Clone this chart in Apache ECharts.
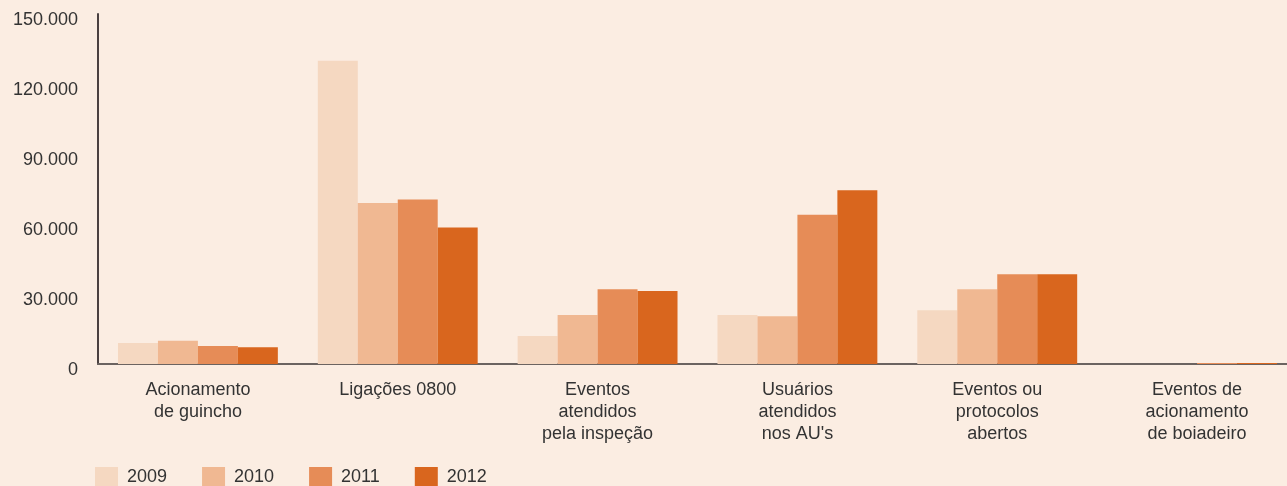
<!DOCTYPE html>
<html>
<head>
<meta charset="utf-8">
<script src="https://cdn.jsdelivr.net/npm/echarts@6/dist/echarts.min.js"></script>
<style>
  html, body { margin: 0; padding: 0; background: #fbede2; }
  #chart { width: 1287px; height: 486px; }
</style>
</head>
<body>
<div id="chart"></div>
<script>
// categorias e valores
var categories = [
  'Acionamento\nde guincho',
  'Ligações 0800',
  'Eventos\natendidos\npela inspeção',
  'Usuários\natendidos\nnos AU\'s',
  'Eventos ou\nprotocolos\nabertos',
  'Eventos de\nacionamento\nde boiadeiro'
]
var years = ['2009', '2010', '2011', '2012']
var values2009 = [9000, 130000, 12000, 21000, 23000, 0]
var values2010 = [10000, 69000, 21000, 20500, 32000, 0]
var values2011 = [7700, 70500, 32000, 64000, 38500, 400]
var values2012 = [7200, 58500, 31300, 74500, 38500, 400]
var yTicks = [0, 30000, 60000, 90000, 120000, 150000]

var colors = ['#f5d8c1', '#f0b892', '#e68c57', '#d9661e']
var seriesData = [values2009, values2010, values2011, values2012]

function fmt(v) {
  return String(v).replace(/\B(?=(\d{3})+(?!\d))/g, '.')
}

var myChart = echarts.init(document.getElementById('chart'))
var option = {
  backgroundColor: '#fbede2',
  animation: false,
  textStyle: { fontFamily: 'Liberation Sans, Arial, sans-serif' },
  // o eixo x continua além da borda direita
  grid: { left: 98, right: -10, top: 14, bottom: 122, outerBoundsMode: 'none' },
  legend: {
    data: years,
    left: 90,
    top: 462,
    itemWidth: 23,
    itemHeight: 20,
    itemGap: 35,
    icon: 'rect',
    textStyle: { fontSize: 18, color: '#333', padding: [0, 0, 0, 4] }
  },
  xAxis: {
    type: 'category',
    data: categories,
    axisLine: { lineStyle: { color: '#6b6360', width: 2 } },
    axisTick: { inside: true, length: 8, lineStyle: { color: '#3e3535', width: 2 } },
    axisLabel: { fontSize: 18, color: '#333', lineHeight: 22, margin: 15 }
  },
  yAxis: {
    type: 'value',
    min: yTicks[0],
    max: yTicks[yTicks.length - 1],
    interval: 30000,
    splitLine: { show: false },
    axisLine: { show: true, lineStyle: { color: '#4a4040', width: 2 } },
    axisTick: { show: false },
    axisLabel: {
      fontSize: 18,
      color: '#333',
      margin: 20,
      verticalAlign: 'top',
      lineHeight: 13,
      formatter: fmt
    }
  },
  series: years.map(function (y, i) {
    return {
      name: y,
      type: 'bar',
      data: seriesData[i],
      barGap: '0%',
      barCategoryGap: '20%',
      itemStyle: { color: colors[i] }
    }
  })
}
myChart.setOption(option)
</script>
</body>
</html>
